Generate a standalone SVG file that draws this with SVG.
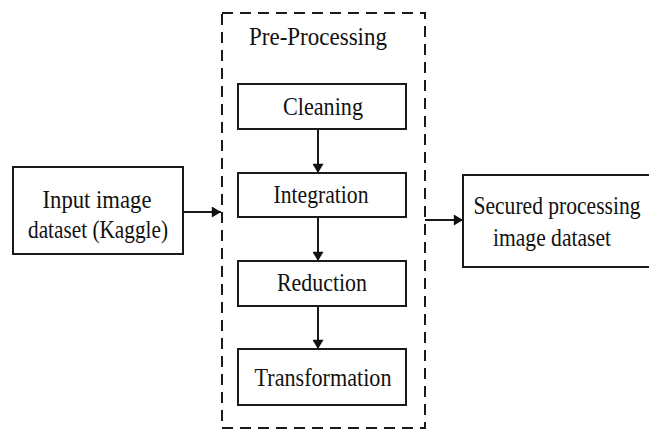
<svg xmlns="http://www.w3.org/2000/svg" width="649" height="430" viewBox="0 0 649 430">
<defs>
<style>
.box{fill:#fff;stroke:#1a1a1a;stroke-width:2}
.dash{fill:none;stroke:#1a1a1a;stroke-width:2;stroke-dasharray:11 7}
.t{font-family:"Liberation Serif","Times New Roman",serif;font-size:26px;fill:#111;text-anchor:middle}
.s{font-family:"Liberation Serif","Times New Roman",serif;font-size:22px;fill:#111;text-anchor:middle}
.c{stroke:#1a1a1a;stroke-width:2;fill:none}
</style>
<marker id="ahv" viewBox="0 0 10 12" refX="10" refY="6" markerWidth="12" markerHeight="11" markerUnits="userSpaceOnUse" orient="auto">
<path d="M0,0 L10,6 L0,12 z" fill="#111"/>
</marker>
</defs>
<rect width="649" height="430" fill="#fff"/>
<g id="preprocessing">
<rect class="dash" x="222" y="13" width="203" height="415"/>
<text class="t" x="318" y="45" textLength="138" lengthAdjust="spacingAndGlyphs">Pre-Processing</text>
</g>
<g id="cleaning">
<rect class="box" x="238" y="84" width="168" height="45"/>
<text class="t" x="323" y="115" textLength="80" lengthAdjust="spacingAndGlyphs">Cleaning</text>
</g>
<g id="integration">
<rect class="box" x="238" y="173" width="168" height="44"/>
<text class="t" x="321" y="203" textLength="95" lengthAdjust="spacingAndGlyphs">Integration</text>
</g>
<g id="reduction">
<rect class="box" x="238" y="261" width="168" height="45"/>
<text class="t" x="322" y="291" textLength="90" lengthAdjust="spacingAndGlyphs">Reduction</text>
</g>
<g id="transformation">
<rect class="box" x="238" y="349" width="168" height="56"/>
<text class="t" x="323" y="386" textLength="137" lengthAdjust="spacingAndGlyphs">Transformation</text>
</g>
<g id="input">
<rect class="box" x="13" y="167" width="170" height="87"/>
<text class="t" x="97" y="208" textLength="109" lengthAdjust="spacingAndGlyphs">Input image</text>
<text class="t" x="98" y="238" textLength="140" lengthAdjust="spacingAndGlyphs">dataset (Kaggle)</text>
</g>
<g id="secured">
<rect class="box" x="463" y="175" width="190" height="92"/>
<text class="s" transform="translate(557,214) scale(0.98,1.18)" x="0" y="0">Secured processing</text>
<text class="s" transform="translate(552,246) scale(0.98,1.18)" x="0" y="0">image dataset</text>
</g>
<g id="connectors">
<line class="c" x1="318" y1="129" x2="318" y2="173" marker-end="url(#ahv)"/>
<line class="c" x1="318" y1="217" x2="318" y2="261" marker-end="url(#ahv)"/>
<line class="c" x1="318" y1="306" x2="318" y2="349" marker-end="url(#ahv)"/>
<line class="c" x1="183" y1="212" x2="221" y2="212" marker-end="url(#ahv)"/>
<line class="c" x1="425" y1="220" x2="463" y2="220" stroke-width="3" marker-end="url(#ahv)"/>
</g>
</svg>
